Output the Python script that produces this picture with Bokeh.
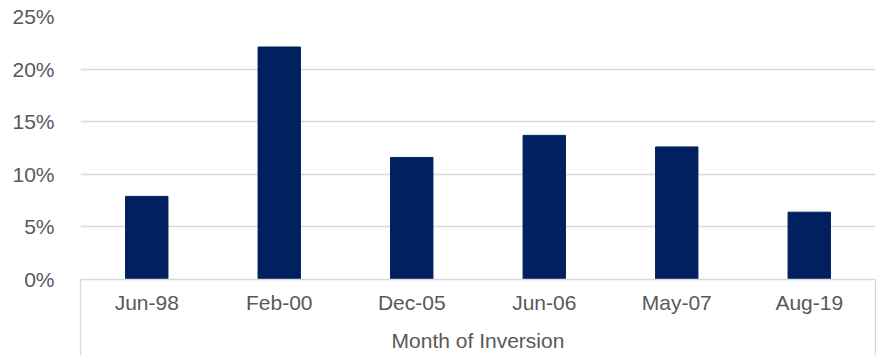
from bokeh.plotting import figure
from bokeh.models import FixedTicker, Range1d, ColumnDataSource
from bokeh.embed import file_html
from bokeh.resources import INLINE

categories = ["Jun-98", "Feb-00", "Dec-05", "Jun-06", "May-07", "Aug-19"]
values = [7.9, 22.1, 11.6, 13.7, 12.6, 6.4]  # percent
y_ticks = [0, 5, 10, 15, 20, 25]

FONT = "Liberation Sans"
TXT = "#595959"
GRID = "#d9d9d9"
FS = "21px"

xs = [i + 0.5 for i in range(len(categories))]
src = ColumnDataSource(dict(x=xs, top=values, cat=categories))

p = figure(width=878, height=355, output_backend="svg", toolbar_location=None,
           x_range=Range1d(0, len(categories)), y_range=Range1d(0, 25),
           min_border_left=80, min_border_right=3, min_border_top=16, min_border_bottom=76)
p.outline_line_color = None
p.background_fill_color = "white"
p.border_fill_color = "white"

p.vbar(x="x", top="top", width=0.32, bottom=0, source=src,
       fill_color="#002060", line_color="#002060")

# y axis
p.yaxis.ticker = FixedTicker(ticks=y_ticks)
p.yaxis.major_label_overrides = {t: f"{t}%" for t in y_ticks}
p.yaxis.axis_line_color = None
p.yaxis.major_tick_line_color = None
p.yaxis.minor_tick_line_color = None
p.yaxis.major_label_text_font = FONT
p.yaxis.major_label_text_font_size = FS
p.yaxis.major_label_text_color = TXT
p.yaxis.major_label_standoff = 20
p.ygrid.grid_line_color = GRID
p.ygrid.grid_line_width = 1.3
p.xgrid.grid_line_color = None

# x axis (outer box lines drawn as long minor ticks at category-axis ends)
TICK_OUT = 78
p.xaxis.ticker = FixedTicker(ticks=xs, minor_ticks=[0, len(categories)])
p.xaxis.major_label_overrides = {x: c for x, c in zip(xs, categories)}
p.xaxis.axis_line_color = GRID
p.xaxis.axis_line_width = 1.3
p.xaxis.major_tick_line_color = None
p.xaxis.minor_tick_line_color = GRID
p.xaxis.minor_tick_line_width = 1.3
p.xaxis.minor_tick_out = TICK_OUT
p.xaxis.minor_tick_in = 0
p.xaxis.major_tick_out = 0
p.xaxis.major_label_text_font = FONT
p.xaxis.major_label_text_font_size = FS
p.xaxis.major_label_text_color = TXT
p.xaxis.major_label_standoff = 11 - TICK_OUT
p.xaxis.axis_label = "Month of Inversion"
p.xaxis.axis_label_text_font = FONT
p.xaxis.axis_label_text_font_size = FS
p.xaxis.axis_label_text_font_style = "normal"
p.xaxis.axis_label_text_color = TXT
p.xaxis.axis_label_standoff = 12

open("out.html", "w").write(file_html(p, INLINE))
